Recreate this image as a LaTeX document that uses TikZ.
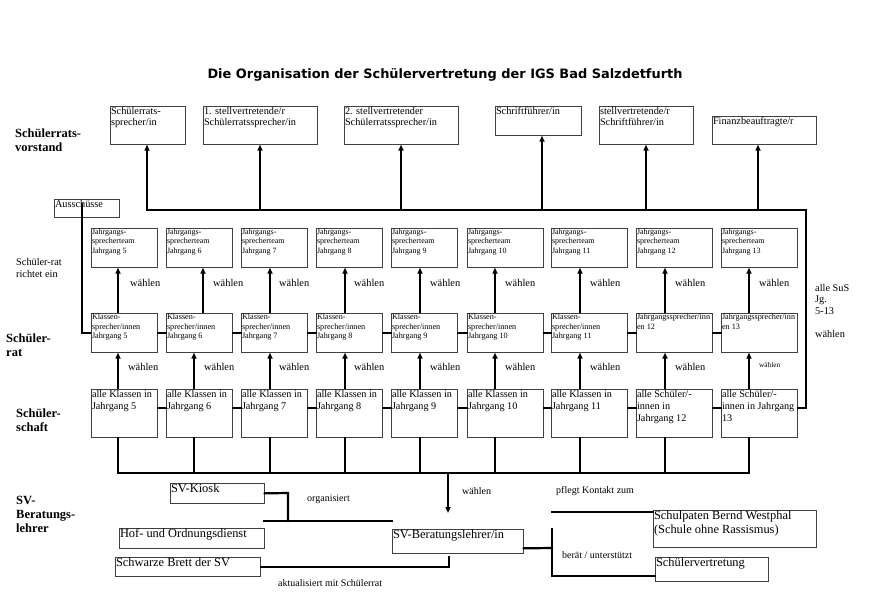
\documentclass[tikz,border=0pt]{standalone}
\usepackage{fontspec}
\setmainfont{Liberation Serif}
\newfontfamily\titlefont{DejaVu Sans}
\usetikzlibrary{arrows.meta}
\newcommand{\fa}{\fontsize{10.3}{11.5}\selectfont}
\newcommand{\fb}{\fontsize{8}{9.3}\selectfont}
\newcommand{\fk}{\fontsize{8.2}{9.5}\selectfont}
\newcommand{\fc}{\fontsize{10.2}{12}\selectfont}
\newcommand{\fd}{\fontsize{12.4}{13.5}\selectfont}
\newcommand{\fl}{\fontsize{10}{12}\selectfont}
\newcommand{\fw}{\fontsize{10.4}{12}\selectfont}
\newcommand{\fbold}{\fontsize{12.5}{14}\selectfont\bfseries}
\tikzset{
  boxst/.style={draw=black!75, line width=0.7pt, inner sep=0pt, anchor=north west},
  txt/.style={anchor=north west, inner sep=0.8pt, align=left},
  lab/.style={anchor=west, inner sep=0pt, align=left},
  conn/.style={line width=2.2pt, black, line cap=rect, line join=miter},
  arr/.style={line width=2.2pt, black, -{Triangle[length=6pt,width=5pt]}},
}
\newcommand{\bx}[7]{%
  \node[boxst, minimum width={#4-#2}, minimum height={#5-#3}] (#1) at (#2,#3) {};
  \node[txt, font=#6] (#1-t) at (#1.north west) {#7};}
\begin{document}
\begin{tikzpicture}[x=1pt,y=-1pt]
\useasboundingbox[fill=white] (0,0) rectangle (871,604);

% title
\node (title) at (445,75) {\resizebox{475pt}{!}{\titlefont\bfseries\fontsize{11}{13}\selectfont Die Organisation der Schülervertretung der IGS Bad Salzdetfurth}};

% left labels
\node[lab, font=\fbold] (L1) at (15,140) {Schülerrats-\\vorstand};
\node[lab, font=\fa] (L2) at (16,268) {Schüler-rat\\richtet ein};
\node[lab, font=\fbold] (L3) at (6,345) {Schüler-\\rat};
\node[lab, font=\fbold] (L4) at (16,420) {Schüler-\\schaft};
\node[lab, font=\fbold] (L5) at (16,514) {SV-\\Beratungs-\\lehrer};
\node[anchor=north west, inner sep=0pt, align=left, font=\fa] (R1) at (815,284) {alle SuS\\Jg.\\5-13\\[11.5pt]wählen};

% Vorstand boxes
\bx{v1}{110}{106}{185}{144}{\fa}{Schülerrats-\\sprecher/in}
\bx{v2}{203}{106}{317}{144}{\fa}{1. stellvertretende/r\\Schülerratssprecher/in}
\bx{v3}{344}{106}{458}{144}{\fa}{2. stellvertretender\\Schülerratssprecher/in}
\bx{v4}{495}{106}{581}{135}{\fa}{Schriftführer/in}
\bx{v5}{599}{106}{693}{144}{\fa}{stellvertretende/r\\Schriftführer/in}
\bx{v6}{712}{116}{816}{144}{\fa}{Finanzbeauftragte/r}

% Ausschuesse
\bx{aus}{54}{199}{119}{217}{\fa}{Ausschüsse}

% year columns
\foreach \n/\xa/\xb/\ax/\tx/\wx/\wy in {5/91/157/118/118/130/128, 6/166/232/194/203/213/204, 7/241/307/270/270/279/279, 8/316/382/345/345/354/354, 9/391/457/420/420/430/430, 10/467/543/495/495/505/505, 11/551/627/580/580/590/590, 12/636/712/665/665/675/675, 13/721/797/749/749/759/759}{
  \bx{j\n}{\xa}{228}{\xb}{267}{\fb}{Jahrgangs-\\sprecherteam\\Jahrgang \n}
  \coordinate (ta\n) at (\tx,0);
  \coordinate (la\n) at (\ax,0);
  \coordinate (bb\n) at (\ax,473);
  \node[lab, font=\fw] (w1\n) at (\wx,283) {wählen};
}
\foreach \n/\xa/\xb in {5/91/157, 6/166/232, 7/241/307, 8/316/382, 9/391/457, 10/467/543, 11/551/627}{
  \bx{k\n}{\xa}{313}{\xb}{352}{\fk}{Klassen-\\sprecher/innen\\Jahrgang \n}
  \bx{a\n}{\xa}{389}{\xb}{437}{\fc}{alle Klassen in\\Jahrgang \n}
}
\bx{k12}{636}{313}{712}{352}{\fk}{Jahrgangssprecher/inn\\en 12}
\bx{k13}{721}{313}{797}{352}{\fk}{Jahrgangssprecher/inn\\en 13}
\bx{a12}{636}{389}{712}{437}{\fc}{alle Schüler/-\\innen in\\Jahrgang 12}
\bx{a13}{721}{389}{797}{437}{\fc}{alle Schüler/-\\innen in Jahrgang\\13}

\foreach \n/\wy in {5/128, 6/204, 7/279, 8/354, 9/430, 10/505, 11/590, 12/675}{
  \node[lab, font=\fw] (w2\n) at (\wy,367) {wählen};
}
\node[lab, font=\fontsize{7.3}{9}\selectfont] (w213) at (759,365) {wählen};

% arrows between rows
\foreach \n in {5,6,7,8,9,10,11,12,13}{
  \draw[arr] (k\n.north -| ta\n) -- (j\n.south -| ta\n);
  \draw[arr] (a\n.north -| la\n) -- (k\n.south -| la\n);
}
\foreach \n in {6,7,8,9,10,11,12}{
  \draw[conn] (a\n.south -| bb\n) -- (bb\n);
}
\draw[conn] (a5.south -| bb5) -- (bb5) -- (bb13) -- (a13.south -| bb13);

% horizontal neighbours
\foreach \i/\j in {5/6,6/7,7/8,8/9,9/10,10/11,11/12,12/13}{
  \draw[conn] (k\i.east) -- (k\j.west);
  \draw[conn] ([yshift=5pt]a\i.east) -- ([yshift=5pt]a\j.west);
}

% top bus
\coordinate (b1) at (147,210);
\coordinate (bR) at (806,210);
\coordinate (rC) at (806,408);
\draw[conn] (b1) -- (bR) -- (rC) -- (rC -| a13.east);
\foreach \v/\x in {v1/147, v2/260, v3/401, v4/542, v5/646, v6/758}{
  \coordinate (c\v) at (\x,210);
  \draw[arr] (c\v) -- (c\v |- \v.south);
}

% Ausschuesse line
\coordinate (au) at (82,203);
\draw[line width=1.8pt, line join=miter] (au) |- (k5.west);

% bottom part
\bx{kiosk}{170}{483}{264}{503}{\fd}{SV-Kiosk}
\bx{hof}{119}{528}{264}{548}{\fd}{Hof- und Ordnungsdienst}
\bx{brett}{115}{557}{260}{576}{\fd}{Schwarze Brett der SV}
\bx{svb}{392}{529}{523}{553}{\fd}{SV-Beratungslehrer/in}
\bx{paten}{653}{510}{816}{547}{\fd}{Schulpaten Bernd Westphal\\(Schule ohne Rassismus)}
\bx{sv}{655}{557}{768}{581}{\fd}{Schülervertretung}

\coordinate (kc) at (288,493);
\coordinate (kd) at (288,521);
\coordinate (o1) at (264,521);
\coordinate (o2) at (392,521);
\draw[conn] (kiosk.east) -- (kc) -- (kd);
\draw[conn] (o1) -- (o2);
\node[lab, font=\fl] (org) at (307,499) {organisiert};

\coordinate (dw1) at (448,473);
\coordinate (dw2) at (448,513);
\draw[arr, line width=1.8pt] (dw1) -- (dw2);
\node[lab, font=\fl] (wsv) at (462,491) {wählen};

\coordinate (br1) at (449,567);
\coordinate (br2) at (449,557);
\draw[conn] (brett.east |- br1) -- (br1) -- (br2);
\node[lab, font=\fl] (akt) at (278,583) {aktualisiert mit Schülerrat};

\coordinate (s1) at (552,548);
\coordinate (s2) at (552,529);
\coordinate (s3) at (552,576);
\coordinate (s4) at (552,512);
\draw[conn] ([yshift=-7pt]svb.east) -- (s1);
\draw[conn] (s2) -- (s3) -- (sv.west |- s3);
\draw[conn] (s4) -- (paten.west |- s4);
\node[lab, font=\fl] (pk) at (556,491) {pflegt Kontakt zum};
\node[lab, font=\fl] (bu) at (562,555) {berät / unterstützt};
\end{tikzpicture}
\end{document}
